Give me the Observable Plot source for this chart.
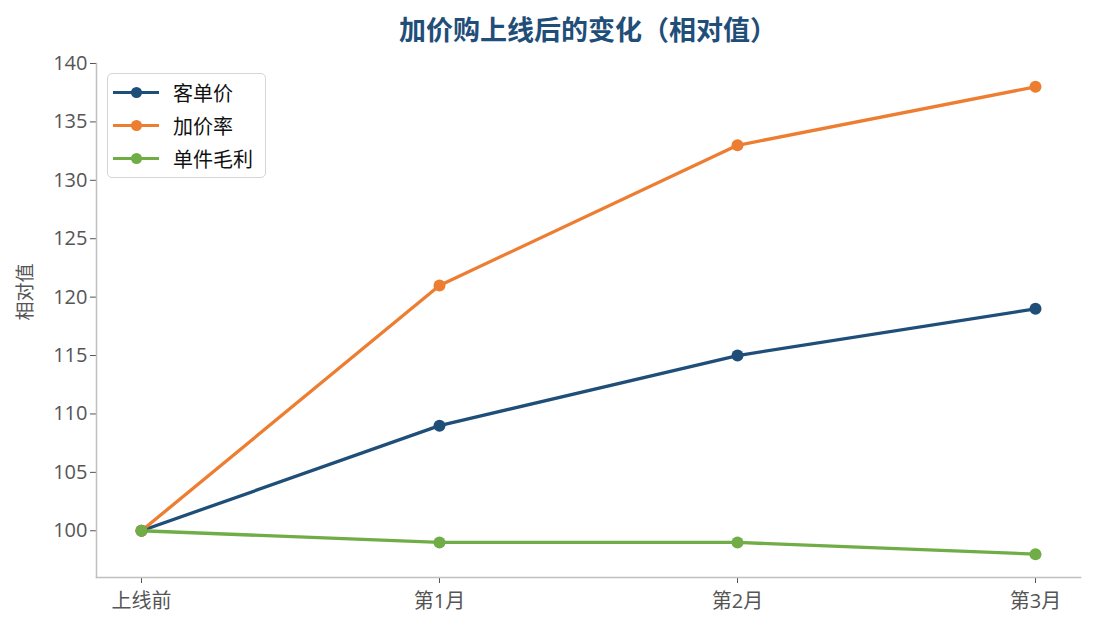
<!DOCTYPE html>
<html><head><meta charset="utf-8">
<script src="https://cdn.jsdelivr.net/npm/d3@7"></script>
<script src="https://cdn.jsdelivr.net/npm/@observablehq/plot@0.6"></script>
<style>
body{margin:0;background:#fff;font-family:"Open Sans","Noto Sans CJK SC",sans-serif;}
#wrap{position:relative;width:1095px;height:630px;}
#title{position:absolute;left:96px;width:984px;top:11px;line-height:36px;text-align:center;font-size:27px;font-weight:bold;color:#1f4e79;font-family:"Noto Sans CJK SC",sans-serif;}
#chart{position:absolute;left:0;top:50px;}
#legend{position:absolute;left:107px;top:73px;width:159px;height:105px;border:1.5px solid #d5d5d5;border-radius:5px;box-sizing:border-box;background:#fff;}
.item{position:absolute;left:5px;height:24px;display:flex;align-items:center;font-size:20px;color:#111;font-family:"Noto Sans CJK SC",sans-serif;}
.sw{position:relative;width:46px;height:3px;margin-right:14px;}
.sw i{position:absolute;left:18px;top:-4px;width:11px;height:11px;border-radius:50%;}
</style></head>
<body>
<div id="wrap">
<div id="title">加价购上线后的变化（相对值）</div>
<div id="chart"></div>
<div id="legend"></div>
</div>
<script>
const categories = ["上线前", "第1月", "第2月", "第3月"];
const seriesNames = ["客单价", "加价率", "单件毛利"];
const kedanjia = [100, 109, 115, 119];
const jiajialv = [100, 121, 133, 138];
const danjianmaoli = [100, 99, 99, 98];
const colors = ["#1f4e79", "#ed7d31", "#70ad47"];
const yTicks = [100, 105, 110, 115, 120, 125, 130, 135, 140];

const allSeries = [kedanjia, jiajialv, danjianmaoli];
const data = [];
allSeries.forEach((vals, si) => vals.forEach((v, i) => data.push({series: seriesNames[si], cat: categories[i], value: v})));

const font = '"Open Sans","Noto Sans CJK SC",sans-serif';
const plot = Plot.plot({
  width: 1095, height: 580,
  marginLeft: 96, marginRight: 15, marginTop: 13, marginBottom: 53,
  style: {fontFamily: font, fontSize: "20px", color: "#555", background: "#fff"},
  x: {type: "point", domain: categories, padding: 0.151, label: null},
  y: {domain: [96, 140], label: null},
  color: {domain: seriesNames, range: colors},
  marks: [
    Plot.axisY({ticks: yTicks, tickSize: 6, tickPadding: 3, stroke: "#555", fill: "#555", fontSize: 20, label: null}),
    Plot.axisX({tickSize: 6, tickPadding: 10, stroke: "#555", fill: "#555", fontSize: 20, label: null}),
    Plot.frame({anchor: "left", stroke: "#c0c0c0", strokeWidth: 1.5}),
    Plot.frame({anchor: "bottom", stroke: "#c0c0c0", strokeWidth: 1.5}),
    Plot.line(data, {x: "cat", y: "value", z: "series", stroke: "series", strokeWidth: 3.3}),
    Plot.dot(data, {x: "cat", y: "value", fill: "series", r: 6}),
    Plot.text(["相对值"], {frameAnchor: "left", dx: -71, rotate: -90, fill: "#555", fontSize: 19, fontFamily: '"Noto Sans CJK SC",sans-serif'})
  ]
});
document.getElementById("chart").appendChild(plot);

const leg = document.getElementById("legend");
seriesNames.forEach((n, i) => {
  const d = document.createElement("div");
  d.className = "item";
  d.style.top = (6 + i * 33) + "px";
  d.innerHTML = `<span class="sw" style="background:${colors[i]}"><i style="background:${colors[i]}"></i></span>${n}`;
  leg.appendChild(d);
});
</script>
</body></html>
